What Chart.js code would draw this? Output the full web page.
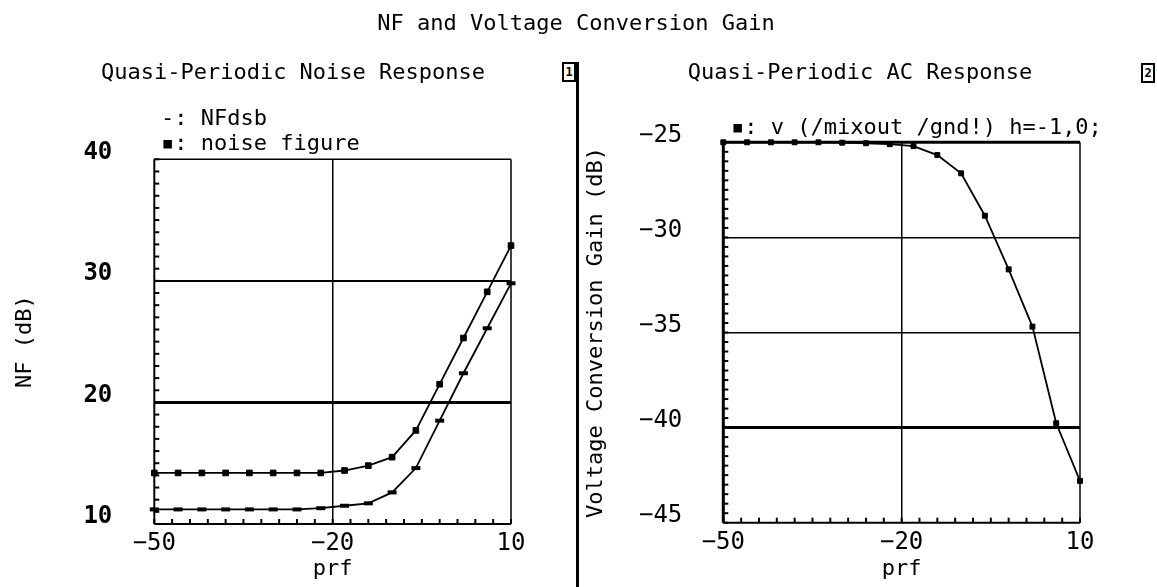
<!DOCTYPE html>
<html>
<head>
<meta charset="utf-8">
<title>NF and Voltage Conversion Gain</title>
<script src="https://cdn.jsdelivr.net/npm/chart.js@4.4.0/dist/chart.umd.min.js"></script>
<style>
  html, body { margin: 0; padding: 0; background: #fff; }
  body {
    width: 1157px; height: 587px; position: relative; overflow: hidden;
    font-family: "DejaVu Sans Mono", monospace; color: #000;
  }
  .txt { position: absolute; font-size: 22px; line-height: 22px; white-space: pre; }
  .centered { transform: translateX(-50%); }
  #chartL { position: absolute; left: 0; top: 0; }
  #chartR { position: absolute; left: 578px; top: 0; }
  .divider { position: absolute; left: 576px; top: 62px; width: 3px; height: 525px; background: #000; }
  .winbox {
    position: absolute; width: 10px; height: 16px; border: 2px solid #000; background: #fff;
    font-size: 12px; line-height: 16px; text-align: center; font-weight: bold;
  }
</style>
</head>
<body>
<canvas id="chartL" width="578" height="587"></canvas>
<canvas id="chartR" width="579" height="587"></canvas>

<div class="divider"></div>
<div class="winbox" style="left:562px; top:62px;">1</div>
<div class="winbox" style="left:1141px; top:63px;">2</div>

<div class="txt centered" style="left:576px; top:12px;">NF and Voltage Conversion Gain</div>
<div class="txt centered" style="left:293px; top:61px;">Quasi-Periodic Noise Response</div>
<div class="txt centered" style="left:860px; top:61px;">Quasi-Periodic AC Response</div>

<div class="txt" style="left:161px; top:107px;">-: NFdsb</div>
<div class="txt" style="left:161px; top:132px;">▪: noise figure</div>
<div class="txt" style="left:731px; top:116px;">▪: v (/mixout /gnd!) h=-1,0;</div>

<script>
// Sweep points (prf) shared by both panels
const prfValues = [-50, -46, -42, -38, -34, -30, -26, -22, -18, -14, -10, -6, -2, 2, 6, 10];

// Left panel: noise response (dB)
const noiseFigure = [14.2, 14.2, 14.2, 14.2, 14.2, 14.2, 14.2, 14.2, 14.4, 14.8, 15.5, 17.7, 21.5, 25.3, 29.1, 32.9];
const nfDsb = [11.2, 11.2, 11.2, 11.2, 11.2, 11.2, 11.2, 11.3, 11.5, 11.7, 12.6, 14.6, 18.5, 22.4, 26.1, 29.8];

// Right panel: voltage conversion gain (dB)
const convGain = [-25.0, -25.0, -25.0, -25.0, -25.0, -25.02, -25.05, -25.1, -25.2, -25.67, -26.63, -28.86, -31.68, -34.69, -39.77, -42.8];

// Tick labels
const prfTickLabels = [-50, -20, 10];
const nfTickLabels = [10, 20, 30, 40];
const gainTickLabels = [-45, -40, -35, -30, -25];

const FONT = '"DejaVu Sans Mono", monospace';

function stepTicks(min, max, step) {
    const out = [];
    const n = Math.round((max - min) / step);
    for (let i = 0; i <= n; i++) out.push({ value: min + i * step });
    return out;
}

function fmt(v) {
    return String(v).replace('-', '\u2212');
}

function toPoints(values) {
    return prfValues.map((x, i) => ({ x: x, y: values[i] }));
}

// Frame and inward minor ticks, drawn under the curves
const frameAndTicks = {
    id: 'frameAndTicks',
    beforeDatasetsDraw(chart, args, opts) {
        const { ctx, chartArea: a, scales: { x, y } } = chart;
        ctx.save();
        ctx.strokeStyle = '#000';

        ctx.lineWidth = opts.yTickWidth;
        y.ticks.forEach(t => {
            const py = y.getPixelForValue(t.value);
            ctx.beginPath();
            ctx.moveTo(a.left, py);
            ctx.lineTo(a.left + opts.tickLen, py);
            ctx.stroke();
        });

        ctx.lineWidth = opts.xTickWidth;
        x.ticks.forEach(t => {
            const px = x.getPixelForValue(t.value);
            ctx.beginPath();
            ctx.moveTo(px, a.bottom);
            ctx.lineTo(px, a.bottom - opts.tickLen);
            ctx.stroke();
        });

        const side = (x1, y1, x2, y2, w) => {
            ctx.lineWidth = w;
            ctx.beginPath();
            ctx.moveTo(x1, y1);
            ctx.lineTo(x2, y2);
            ctx.stroke();
        };
        side(a.left, a.top, a.right, a.top, opts.top);
        side(a.right, a.top, a.right, a.bottom, opts.right);
        side(a.left, a.bottom, a.right, a.bottom, opts.bottom);
        side(a.left, a.top, a.left, a.bottom, opts.left);
        ctx.restore();
    }
};

function gridColor(values) {
    return ctx => (ctx.tick && values.includes(ctx.tick.value)) ? '#000' : 'rgba(0,0,0,0)';
}

function xScale(height) {
    return {
        type: 'linear',
        min: -50,
        max: 10,
        afterBuildTicks: s => { s.ticks = stepTicks(-50, 10, 3); },
        afterFit: s => { s.height = height; },
        border: { display: false },
        grid: { color: gridColor([-20]), lineWidth: 1.5, drawTicks: false },
        ticks: {
            autoSkip: false, maxRotation: 0, padding: 8, color: '#000',
            font: { family: FONT, size: 24, lineHeight: 1 },
            callback: v => prfTickLabels.includes(v) ? fmt(v) : ''
        },
        title: {
            display: true, text: 'prf', color: '#000',
            font: { family: FONT, size: 22, lineHeight: 1 },
            padding: { top: 0, bottom: 7 }
        }
    };
}

const lineBase = {
    borderColor: '#000',
    borderWidth: 1.8,
    pointBackgroundColor: '#000',
    pointBorderColor: '#000',
    clip: false
};

// Left panel: Quasi-Periodic Noise Response
new Chart(document.getElementById('chartL'), {
    type: 'line',
    data: {
        datasets: [
            Object.assign({}, lineBase, {
                label: 'NFdsb',
                data: toPoints(nfDsb),
                pointStyle: 'line',
                pointRadius: 4.5,
                pointBorderWidth: 4
            }),
            Object.assign({}, lineBase, {
                label: 'noise figure',
                data: toPoints(noiseFigure),
                pointStyle: 'rect',
                pointRadius: 4,
                pointBorderWidth: 1
            })
        ]
    },
    options: {
        responsive: false,
        animation: false,
        layout: { padding: { top: 159.3, right: 67, bottom: 0, left: 0 } },
        plugins: {
            legend: { display: false },
            tooltip: { enabled: false },
            frameAndTicks: { tickLen: 5, yTickWidth: 2, xTickWidth: 2, top: 1.5, right: 1.5, bottom: 2, left: 2 }
        },
        scales: {
            x: xScale(63),
            y: {
                type: 'linear',
                min: 10,
                max: 40,
                afterBuildTicks: s => { s.ticks = stepTicks(10, 40, 1); },
                afterFit: s => { s.width = 154.3; },
                border: { display: false },
                grid: {
                    color: gridColor([20, 30]),
                    lineWidth: ctx => (ctx.tick && ctx.tick.value === 20) ? 3 : 2,
                    drawTicks: false
                },
                ticks: {
                    autoSkip: false, padding: 42, labelOffset: -7, color: '#000',
                    font: { family: FONT, size: 24, weight: 'bold', lineHeight: 1 },
                    callback: v => nfTickLabels.includes(v) ? fmt(v) : ''
                },
                title: {
                    display: true, text: 'NF (dB)', color: '#000',
                    font: { family: FONT, size: 22, lineHeight: 1 },
                    padding: { top: 14, bottom: 0 }
                }
            }
        }
    },
    plugins: [frameAndTicks]
});

// Right panel: Quasi-Periodic AC Response
new Chart(document.getElementById('chartR'), {
    type: 'line',
    data: {
        datasets: [
            Object.assign({}, lineBase, {
                label: 'v (/mixout /gnd!) h=-1,0;',
                data: toPoints(convGain),
                pointStyle: 'rect',
                pointRadius: 3.5,
                pointBorderWidth: 1
            })
        ]
    },
    options: {
        responsive: false,
        animation: false,
        layout: { padding: { top: 142.3, right: 77, bottom: 0, left: 0 } },
        plugins: {
            legend: { display: false },
            tooltip: { enabled: false },
            frameAndTicks: { tickLen: 5, yTickWidth: 2, xTickWidth: 2, top: 3, right: 1.5, bottom: 2, left: 3 }
        },
        scales: {
            x: xScale(64.3),
            y: {
                type: 'linear',
                min: -45,
                max: -25,
                afterBuildTicks: s => { s.ticks = stepTicks(-45, -25, 0.5); },
                afterFit: s => { s.width = 145.3; },
                border: { display: false },
                grid: {
                    color: gridColor([-30, -35, -40]),
                    lineWidth: ctx => (ctx.tick && ctx.tick.value === -40) ? 3 : 1.5,
                    drawTicks: false
                },
                ticks: {
                    autoSkip: false, padding: 41, labelOffset: -7, color: '#000',
                    font: { family: FONT, size: 24, lineHeight: 1 },
                    callback: v => gainTickLabels.includes(v) ? fmt(v) : ''
                },
                title: {
                    display: true, text: 'Voltage Conversion Gain (dB)', color: '#000',
                    font: { family: FONT, size: 22, lineHeight: 1 },
                    padding: { top: 7, bottom: 0 }
                }
            }
        }
    },
    plugins: [frameAndTicks]
});
</script>
</body>
</html>
